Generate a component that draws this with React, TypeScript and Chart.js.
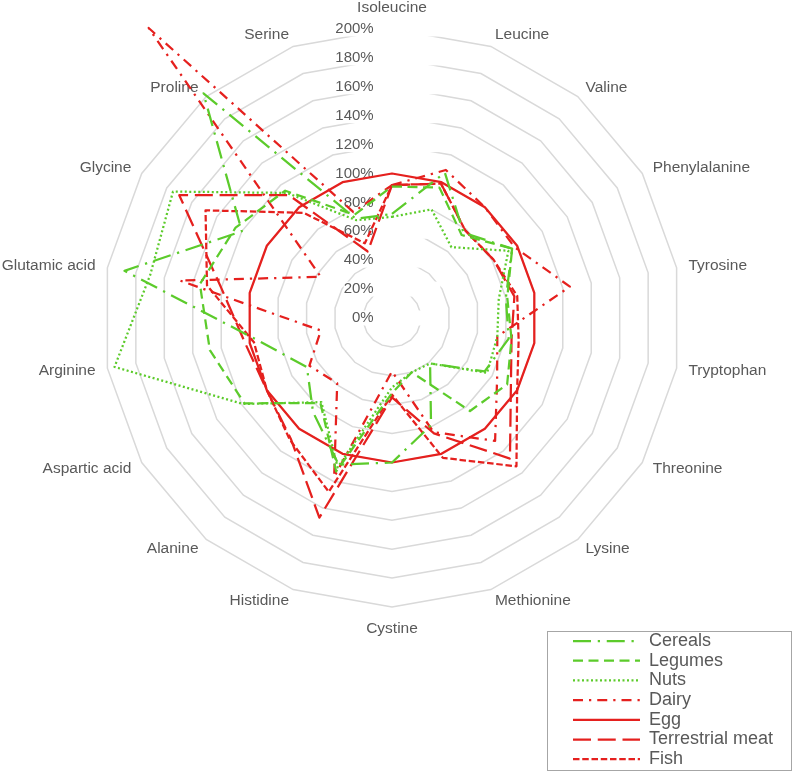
import { useEffect, useRef } from "react";
import { Chart, registerables } from "chart.js";

Chart.register(...registerables);

// ---------- data ----------
const categories = [
  "Isoleucine", "Leucine", "Valine", "Phenylalanine", "Tyrosine", "Tryptophan",
  "Threonine", "Lysine", "Methionine", "Cystine", "Histidine", "Alanine",
  "Aspartic acid", "Arginine", "Glutamic acid", "Glycine", "Proline", "Serine",
];

const seriesNames = ["Cereals", "Legumes", "Nuts", "Dairy", "Egg", "Terrestrial meat", "Fish"];

const cereals = [72, 107, 77, 96, 80, 82, 74, 41, 79, 100, 108, 85, 68, 93, 188, 120, 203, 73];
const legumes = [91, 96, 75, 96, 81, 84, 92, 84, 40, 52, 113, 77, 118, 128, 135, 125, 115, 76];
const nuts = [70, 80, 64, 93, 75, 74, 76, 41, 40, 48, 110, 76, 119, 195, 170, 175, 113, 72];
const dairy = [92, 109, 100, 98, 125, 74, 84, 111, 84, 37, 117, 59, 66, 50, 149, 57, 262, 78];
const egg = [100, 100, 100, 100, 100, 100, 100, 100, 100, 100, 100, 100, 100, 100, 100, 100, 100, 100];
const meat = [92, 99, 79, 81, 86, 84, 95, 127, 85, 55, 147, 109, 100, 103, 120, 170, 111, 49];
const fish = [92, 99, 79, 81, 88, 89, 100, 134, 103, 53, 128, 110, 100, 97, 130, 149, 95, 55];

const tickValues = [0, 20, 40, 60, 80, 100, 120, 140, 160, 180, 200];
const tickLabels = ["0%", "20%", "40%", "60%", "80%", "100%", "120%", "140%", "160%", "180%", "200%"];

// ---------- styles ----------
const FONT = '"Liberation Sans", Arial, Helvetica, sans-serif';
const TEXT = "#595959";
const GREEN = "#5ccb2b";
const RED = "#e5201e";
const LINE_W = 2.25;

const seriesStyles = [
  { color: GREEN, dash: [18, 6.75, 2.25, 6.75] },
  { color: GREEN, dash: [10, 5.5] },
  { color: GREEN, dash: [2, 2.5] },
  { color: RED, dash: [10, 6, 2.25, 6] },
  { color: RED, dash: [] as number[] },
  { color: RED, dash: [18, 6.75] },
  { color: RED, dash: [6.5, 2.75] },
];
const seriesData = [cereals, legumes, nuts, dairy, egg, meat, fish];

// geometry of the radar (canvas pixels)
const CENTER_X = 392;
const CENTER_Y = 318;
const RADIUS = 289;
const LABEL_GAP = 12;
const LABEL_SIZE = 15.5;
const TICK_SIZE = 15;
const TICK_GAP = 19;
// tiny negative minimum so that Chart.js also prints the "0%" tick label
const SCALE_MIN = -0.0001;
const SCALE_MAX = 200;

// legend placement
const LEGEND_FONT = 18;
const LEGEND_PAD = 1.7;
const LEGEND_LINE_X = 573;
const LEGEND_FIRST_Y = 641;
const LEGEND_BOX = { x: 547.5, y: 631.5, w: 244, h: 139 };

export default function App() {
  const ref = useRef<HTMLCanvasElement | null>(null);

  useEffect(() => {
    const canvas = ref.current;
    if (!canvas) return;

    // right-align tick labels left of the vertical axis by padding with trailing spaces
    const measure = document.createElement("canvas").getContext("2d")!;
    measure.font = `${TICK_SIZE}px ${FONT}`;
    const spaceW = measure.measureText(" ").width || TICK_SIZE * 0.278;
    const tickText = new Map<number, { text: string; trail: number }>();
    tickValues.forEach((v, i) => {
      const base = tickLabels[i];
      const w = measure.measureText(base).width;
      const n = Math.max(0, Math.round((w + 2 * TICK_GAP) / spaceW));
      tickText.set(v, { text: base + " ".repeat(n), trail: n * spaceW });
    });
    const tickKey = (v: any) => Math.round(Number(v));

    const legendPlacer = {
      id: "legendPlacer",
      beforeDraw(chart: any) {
        const lg = chart.legend;
        if (!lg) return;
        const left = LEGEND_LINE_X - LEGEND_PAD;
        const top = LEGEND_FIRST_Y - LEGEND_FONT / 2 - LEGEND_PAD;
        lg.left = left;
        lg.top = top;
        lg.right = 792;
        lg.bottom = 773;
        lg.width = lg.right - left;
        lg.height = lg.bottom - top;
      },
      afterDraw(chart: any) {
        const ctx = chart.ctx;
        ctx.save();
        ctx.strokeStyle = "#a6a6a6";
        ctx.lineWidth = 1;
        ctx.setLineDash([]);
        ctx.strokeRect(LEGEND_BOX.x, LEGEND_BOX.y, LEGEND_BOX.w, LEGEND_BOX.h);
        ctx.restore();
      },
    };

    const chart = new Chart(canvas, {
      type: "radar",
      data: {
        labels: categories,
        datasets: seriesNames.map((name, i) => ({
          label: name,
          data: seriesData[i],
          borderColor: seriesStyles[i].color,
          backgroundColor: seriesStyles[i].color,
          borderWidth: LINE_W,
          borderDash: seriesStyles[i].dash,
          borderJoinStyle: "round" as const,
          borderCapStyle: "butt" as const,
          fill: false,
          tension: 0,
          pointRadius: 0,
          pointHoverRadius: 0,
          pointHitRadius: 0,
        })),
      },
      options: {
        responsive: false,
        animation: false,
        devicePixelRatio: 1,
        events: [],
        layout: { padding: 0 },
        plugins: {
          tooltip: { enabled: false },
          legend: {
            display: true,
            position: "chartArea" as any,
            align: "start",
            labels: {
              usePointStyle: true,
              pointStyle: "line",
              pointStyleWidth: 67,
              boxHeight: LEGEND_FONT,
              padding: LEGEND_PAD,
              color: TEXT,
              font: { size: LEGEND_FONT, family: FONT },
              generateLabels: (ch: any) =>
                ch.data.datasets.map((ds: any, i: number) => ({
                  text: ds.label,
                  fillStyle: "rgba(0,0,0,0)",
                  strokeStyle: ds.borderColor,
                  lineWidth: ds.borderWidth,
                  lineDash: ds.borderDash,
                  lineCap: "butt",
                  pointStyle: "line",
                  fontColor: TEXT,
                  hidden: false,
                  datasetIndex: i,
                })),
            },
          },
        },
        scales: {
          r: {
            min: SCALE_MIN,
            max: SCALE_MAX,
            startAngle: 0,
            angleLines: { display: false },
            grid: {
              color: (ctx: any) => (ctx.index === 0 ? "rgba(0,0,0,0)" : "#d9d9d9"),
              lineWidth: 1.5,
              circular: false,
            },
            ticks: {
              stepSize: 20,
              color: TEXT,
              font: { size: TICK_SIZE, family: FONT },
              showLabelBackdrop: true,
              backdropColor: "#ffffff",
              backdropPadding: (ctx: any) => {
                const info = tickText.get(tickKey(ctx?.tick?.value));
                const trail = info ? info.trail : 0;
                return { top: 1, bottom: 1, left: 2, right: 2 - trail };
              },
              callback: (v: any) => {
                const info = tickText.get(tickKey(v));
                return info ? info.text : `${tickKey(v)}%`;
              },
            },
            pointLabels: {
              color: TEXT,
              font: { size: LABEL_SIZE, family: FONT },
              padding: LABEL_GAP,
            },
            afterFit: (scale: any) => {
              scale.xCenter = CENTER_X;
              scale.yCenter = CENTER_Y;
              scale.drawingArea = RADIUS;
              const items = scale._pointLabelItems;
              if (!items || !items.length) return;
              const h = LABEL_SIZE * 1.2;
              const ctx = scale.ctx;
              ctx.save();
              ctx.font = `${LABEL_SIZE}px ${FONT}`;
              items.forEach((item: any, i: number) => {
                const p = scale.getPointPosition(i, RADIUS + LABEL_GAP);
                const deg = Math.round((((scale.getIndexAngle(i) * 180) / Math.PI) % 360 + 360) % 360);
                let align: string;
                let y: number;
                if (deg === 0) {
                  align = "center";
                  y = p.y - h;
                } else if (deg === 180) {
                  align = "center";
                  y = p.y;
                } else {
                  align = deg < 180 ? "left" : "right";
                  y = p.y - h / 2;
                }
                const w = ctx.measureText(String(scale._pointLabels[i])).width;
                const left = align === "left" ? p.x : align === "right" ? p.x - w : p.x - w / 2;
                Object.assign(item, {
                  visible: true,
                  x: p.x,
                  y,
                  textAlign: align,
                  left,
                  top: y,
                  right: left + w,
                  bottom: y + h,
                });
              });
              ctx.restore();
            },
          } as any,
        },
      },
      plugins: [legendPlacer],
    });

    return () => chart.destroy();
  }, []);

  return (
    <div style={{ position: "fixed", left: 0, top: 0, width: 794, height: 773, background: "#ffffff" }}>
      <canvas ref={ref} width={794} height={773} style={{ display: "block", width: "794px", height: "773px" }} />
    </div>
  );
}
